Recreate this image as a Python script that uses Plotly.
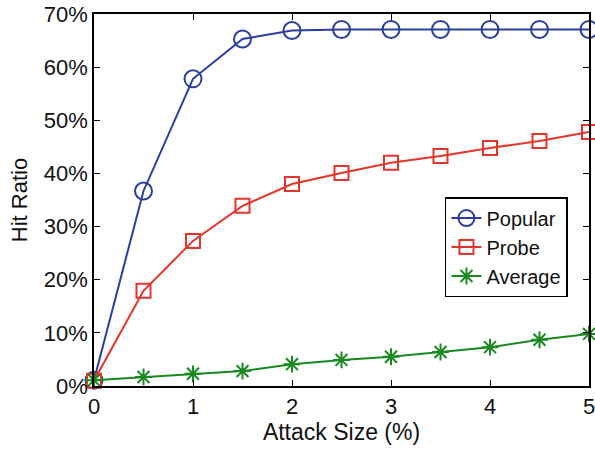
import plotly.graph_objects as go

x_vals = [0, 0.5, 1, 1.5, 2, 2.5, 3, 3.5, 4, 4.5, 5]
popular = [1.1, 36.7, 57.8, 65.3, 66.9, 67.1, 67.1, 67.1, 67.1, 67.1, 67.1]
probe = [1.0, 17.9, 27.3, 33.9, 38.0, 40.1, 42.0, 43.3, 44.8, 46.1, 47.8]
average = [1.1, 1.7, 2.3, 2.8, 4.1, 4.9, 5.5, 6.4, 7.3, 8.7, 9.8]
y_ticks = [0, 10, 20, 30, 40, 50, 60, 70]
y_labels = [f"{v}%" for v in y_ticks]
x_ticks = [0, 1, 2, 3, 4, 5]

blue = "#2b3f9f"
red = "#e5352b"
green = "#198a1f"

fig = go.Figure()
fig.add_trace(go.Scatter(x=x_vals, y=popular, name="Popular", mode="lines+markers",
                         line=dict(color=blue, width=2),
                         marker=dict(symbol="circle-open", size=17, color=blue, line=dict(width=2)),
                         cliponaxis=False))
fig.add_trace(go.Scatter(x=x_vals, y=probe, name="Probe", mode="lines+markers",
                         line=dict(color=red, width=2),
                         marker=dict(symbol="square-open", size=14, color=red, line=dict(width=2)),
                         cliponaxis=False))
fig.add_trace(go.Scatter(x=x_vals, y=average, name="Average", mode="lines+markers",
                         line=dict(color=green, width=2),
                         marker=dict(symbol="asterisk-open", size=14, color=green, line=dict(width=2, color=green)),
                         cliponaxis=False))

axis_common = dict(showgrid=False, zeroline=False, showline=True, linecolor="black", linewidth=1.5,
                   mirror="ticks", ticks="inside", ticklen=6, tickcolor="black",
                   tickfont=dict(size=22, color="#111"), automargin=False,
                   ticklabeloverflow="allow")
fig.update_layout(
    width=595, height=451,
    margin=dict(l=94, r=6, t=14, b=65),
    paper_bgcolor="white", plot_bgcolor="white",
    font=dict(family="Liberation Sans, Arial, sans-serif", color="#111"),
    xaxis=dict(range=[0, 5], tickvals=x_ticks, title=dict(text="Attack Size (%)", font=dict(size=23), standoff=6),
               **axis_common),
    yaxis=dict(range=[0, 70], tickvals=y_ticks, ticktext=y_labels,
               title=dict(text="Hit Ratio", font=dict(size=22), standoff=10), **axis_common),
    legend=dict(x=0.709, y=0.508, xanchor="left", yanchor="top", bordercolor="black", borderwidth=1.5,
                bgcolor="white", font=dict(size=20), tracegroupgap=0, itemwidth=30),
    showlegend=True,
)
fig.write_html("out.html", config={"displayModeBar": False},
               post_script="document.body.style.margin='0';")
